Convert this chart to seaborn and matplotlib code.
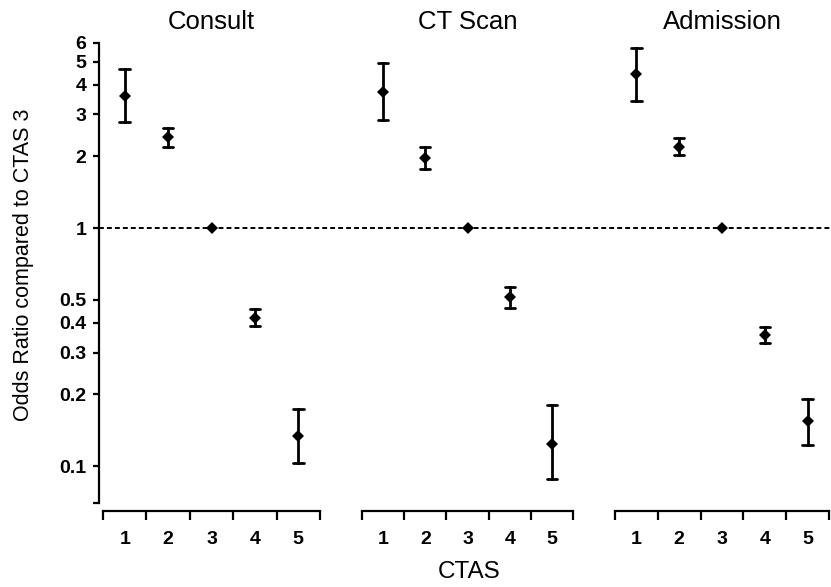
import numpy as np
import pandas as pd
import matplotlib
matplotlib.use("Agg")
import matplotlib.pyplot as plt
import matplotlib.transforms as mtransforms
from matplotlib.lines import Line2D
from matplotlib.ticker import NullLocator, FixedLocator
import seaborn as sns

# ---- data ----
panels = ["Consult", "CT Scan", "Admission"]
ctas = ["1", "2", "3", "4", "5"]

consult_or = [3.58, 2.41, 1.0, 0.42, 0.134]
consult_lo = [2.78, 2.20, None, 0.387, 0.103]
consult_hi = [4.67, 2.63, None, 0.455, 0.173]

ctscan_or = [3.74, 1.97, 1.0, 0.513, 0.124]
ctscan_lo = [2.84, 1.77, None, 0.463, 0.088]
ctscan_hi = [4.92, 2.18, None, 0.564, 0.181]

admit_or = [4.45, 2.20, 1.0, 0.357, 0.154]
admit_lo = [3.43, 2.03, None, 0.330, 0.123]
admit_hi = [5.73, 2.39, None, 0.383, 0.192]

ytick_vals = [0.07, 0.1, 0.2, 0.3, 0.4, 0.5, 1, 2, 3, 4, 5, 6]
ytick_labels = ["", "0.1", "0.2", "0.3", "0.4", "0.5", "1", "2", "3", "4", "5", "6"]

series = {
    "Consult": (consult_or, consult_lo, consult_hi),
    "CT Scan": (ctscan_or, ctscan_lo, ctscan_hi),
    "Admission": (admit_or, admit_lo, admit_hi),
}

rows = []
for p in panels:
    est, lo, hi = series[p]
    for c, e, l, h in zip(ctas, est, lo, hi):
        rows.append((p, c, e))
        if l is not None:
            rows.append((p, c, l))
            rows.append((p, c, h))
df = pd.DataFrame(rows, columns=["panel", "CTAS", "OR"])

# ---- styling ----
sns.set_theme(style="ticks")
plt.rcParams["font.family"] = ["Liberation Sans", "DejaVu Sans"]
plt.rcParams["font.weight"] = "bold"
plt.rcParams["text.color"] = "black"
plt.rcParams["xtick.color"] = "black"
plt.rcParams["ytick.color"] = "black"
plt.rcParams["xtick.labelcolor"] = "black"
plt.rcParams["ytick.labelcolor"] = "black"
plt.rcParams["xtick.labelsize"] = 14
plt.rcParams["ytick.labelsize"] = 14

W, H = 831, 587
fig = plt.figure(figsize=(W / 100, H / 100), dpi=100)
fig.patch.set_facecolor("white")

# axes boxes in pixels: (left, right)
boxes = [(103, 320), (362, 573), (615, 829)]
top_px, bot_px = 42.8, 503.0

axes = []
for i, (p, (l, r)) in enumerate(zip(panels, boxes)):
    ax = fig.add_axes([l / W, 1 - bot_px / H, (r - l) / W, (bot_px - top_px) / H])
    ax.set_facecolor("none")
    sub = df[df["panel"] == p]
    sns.pointplot(
        data=sub, x="CTAS", y="OR", order=ctas,
        estimator="median", errorbar=("pi", 100),
        color="black", marker="D", markersize=6.5, markeredgewidth=0,
        linestyle="none",
        capsize=0.24, err_kws={"linewidth": 2.0},
        log_scale=(False, True), ax=ax,
    )
    ax.set_yscale("log")
    ax.set_ylim(0.07, 6)
    ax.set_xlim(-0.5, 4.5)
    ax.set_xlabel("")
    ax.set_ylabel("")
    # x ticks: labels centered, tick marks at category boundaries
    ax.set_xticks(range(5))
    ax.set_xticklabels(ctas)
    ax.xaxis.set_minor_locator(FixedLocator(np.arange(-0.5, 5.0, 1.0)))
    ax.tick_params(axis="x", which="major", length=0, pad=14, labelsize=14)
    ax.tick_params(axis="x", which="minor", length=6.5, width=1.6, direction="out", color="black")
    ax.spines["top"].set_visible(False)
    ax.spines["right"].set_visible(False)
    ax.spines["bottom"].set_linewidth(1.6)
    ax.spines["bottom"].set_color("black")
    ax.spines["bottom"].set_position(("outward", 5.8))
    if i == 0:
        ax.set_yticks(ytick_vals)
        ax.set_yticklabels(ytick_labels)
        ax.yaxis.set_minor_locator(NullLocator())
        ax.tick_params(axis="y", which="major", length=4, width=1.6, pad=5,
                       labelsize=14, direction="out", color="black")
        ax.spines["left"].set_linewidth(1.6)
        ax.spines["left"].set_color("black")
        ax.spines["left"].set_position(("outward", 2.9))
    else:
        ax.spines["left"].set_visible(False)
        ax.yaxis.set_minor_locator(NullLocator())
        ax.tick_params(axis="y", which="both", left=False, labelleft=False)
    fig.text((l + r) / 2 / W, 1 - 29 / H, p, ha="center", va="baseline",
             fontsize=18.5, color="black", fontweight="normal")
    axes.append(ax)

# dashed reference line at OR = 1 spanning all panels
trans = mtransforms.blended_transform_factory(fig.transFigure, axes[0].transData)
fig.add_artist(Line2D([99 / W, 1.0], [1, 1], transform=trans, color="black",
                      linewidth=1.4, linestyle=(0, (2.5, 1.6)), zorder=-1))

fig.text(24 / W, 1 - 265 / H, "Odds Ratio compared to CTAS 3", rotation=90,
         ha="center", va="center", fontsize=15.5, color="black", fontweight="normal")
fig.text(469 / W, 9 / H, "CTAS", ha="center", va="baseline", fontsize=17.5,
         color="black", fontweight="normal")

fig.savefig("out.png", dpi=100, facecolor="white")
